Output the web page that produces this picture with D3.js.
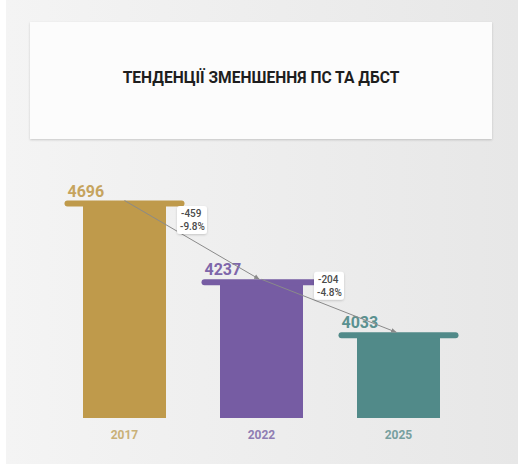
<!DOCTYPE html>
<html>
<head>
<meta charset="utf-8">
<script src="https://cdn.jsdelivr.net/npm/d3@7"></script>
<style>
  html, body { margin: 0; padding: 0; background: #fff; }
  svg { display: block; font-family: Roboto, 'Noto Sans', sans-serif; }
</style>
</head>
<body>
<div id="content"></div>
<script>
'use strict';

var title = 'ТЕНДЕНЦІЇ ЗМЕНШЕННЯ ПС ТА ДБСТ'
var years = ['2017', '2022', '2025']
var values = [4696, 4237, 4033]
var colors = ['#bf9a4b', '#765ca3', '#518a89']
var labelColors = ['#c6a45e', '#7e66aa', '#5a9190']
var yearColors = ['#c9b077', '#8f7db3', '#77a09f']

var width = 524, height = 470
var svg = d3.select('#content').append('svg').attr('width', width).attr('height', height)

var defs = svg.append('defs')
var grad = defs.append('linearGradient').attr('id', 'bg').attr('x1', 0).attr('x2', 1).attr('y1', 0).attr('y2', 0)
grad.append('stop').attr('offset', 0).attr('stop-color', '#f4f4f4')
grad.append('stop').attr('offset', 1).attr('stop-color', '#e7e7e7')

var shadow = defs.append('filter').attr('id', 'shadow').attr('x', -0.2).attr('y', -0.2).attr('width', 1.4).attr('height', 1.5)
shadow.append('feDropShadow').attr('dx', 0).attr('dy', 1).attr('stdDeviation', 1).attr('flood-color', '#000').attr('flood-opacity', 0.18)

defs.append('marker').attr('id', 'arrow').attr('viewBox', '0 0 10 10')
    .attr('refX', 9).attr('refY', 5).attr('markerWidth', 6).attr('markerHeight', 6)
    .attr('orient', 'auto')
    .append('path').attr('d', 'M0,1 L9,5 L0,9 Z').attr('fill', '#8a8a8a')

// panel background
svg.append('rect').attr('x', 6).attr('y', 0).attr('width', 512).attr('height', 464).attr('fill', 'url(#bg)')

// title card
svg.append('rect').attr('x', 30).attr('y', 22).attr('width', 462).attr('height', 117)
    .attr('fill', '#fcfcfc').attr('filter', 'url(#shadow)')
svg.append('text').attr('x', 261).attr('y', 83).attr('text-anchor', 'middle')
    .attr('font-size', 15.6).attr('font-weight', 700).attr('fill', '#1e1e1e').text(title)

var baseline = 418
var x = d3.scalePoint().domain(years).range([124.5, 398.5])
// infographic is not to scale: heights grow as a power of the value above a floor
var floor = 3900
var yPow = d3.scalePow().exponent(0.533).domain([0, 4696 - floor]).range([baseline, baseline - 214.5])
var y = function(v) { return yPow(v - floor) }

var barW = 83, capW = 120, capH = 6

var data = years.map(function(d, i) { return { year: d, value: values[i], i: i } })

var g = svg.append('g')

// bodies
g.selectAll('rect.body').data(data).enter().append('rect').attr('class', 'body')
    .attr('x', function(d) { return x(d.year) - barW / 2 })
    .attr('y', function(d) { return y(d.value) })
    .attr('width', barW)
    .attr('height', function(d) { return baseline - y(d.value) })
    .attr('fill', function(d) { return colors[d.i] })

// caps
g.selectAll('rect.cap').data(data).enter().append('rect').attr('class', 'cap')
    .attr('x', function(d) { return x(d.year) - capW / 2 })
    .attr('y', function(d) { return y(d.value) - capH / 2 })
    .attr('width', capW).attr('height', capH).attr('rx', 3)
    .attr('fill', function(d) { return colors[d.i] })

// value labels
g.selectAll('text.val').data(data).enter().append('text').attr('class', 'val')
    .attr('x', function(d) { return x(d.year) - capW / 2 + 3 })
    .attr('y', function(d) { return y(d.value) - 7 })
    .attr('font-size', 16).attr('font-weight', 700)
    .attr('fill', function(d) { return labelColors[d.i] })
    .text(function(d) { return d.value })

// year labels
g.selectAll('text.year').data(data).enter().append('text').attr('class', 'year')
    .attr('x', function(d) { return x(d.year) })
    .attr('y', 439)
    .attr('text-anchor', 'middle')
    .attr('font-size', 12).attr('font-weight', 700)
    .attr('fill', function(d) { return yearColors[d.i] })
    .text(function(d) { return d.year })

// trend arrows + change boxes
for (var i = 0; i < data.length - 1; i++) {
    var a = data[i], b = data[i + 1]
    var x1 = x(a.year), y1 = y(a.value) - capH / 2
    var x2 = x(b.year) - 2, y2 = y(b.value) - capH / 2
    g.append('line').attr('x1', x1).attr('y1', y1).attr('x2', x2).attr('y2', y2)
        .attr('stroke', '#8a8a8a').attr('stroke-width', 1).attr('marker-end', 'url(#arrow)')

    var diff = b.value - a.value
    var pct = (diff / a.value * 100).toFixed(1)
    var mx = (x1 + x2) / 2
    var my = (y1 + y2) / 2 - 20
    var bw = 30, bh = 28
    var box = g.append('g').attr('transform', 'translate(' + mx + ',' + my + ')')
    box.append('rect').attr('x', -bw / 2).attr('y', -bh / 2).attr('width', bw).attr('height', bh)
        .attr('rx', 3).attr('fill', '#fff').attr('filter', 'url(#shadow)')
    box.append('text').attr('x', -bw / 2 + 4).attr('y', -3).attr('font-size', 10).attr('font-weight', 500)
        .attr('fill', '#4a4a4a').text(diff)
    box.append('text').attr('x', -bw / 2 + 3).attr('y', 10).attr('font-size', 10).attr('font-weight', 500)
        .attr('fill', '#4a4a4a').text(pct + '%')
}
</script>
</body>
</html>
